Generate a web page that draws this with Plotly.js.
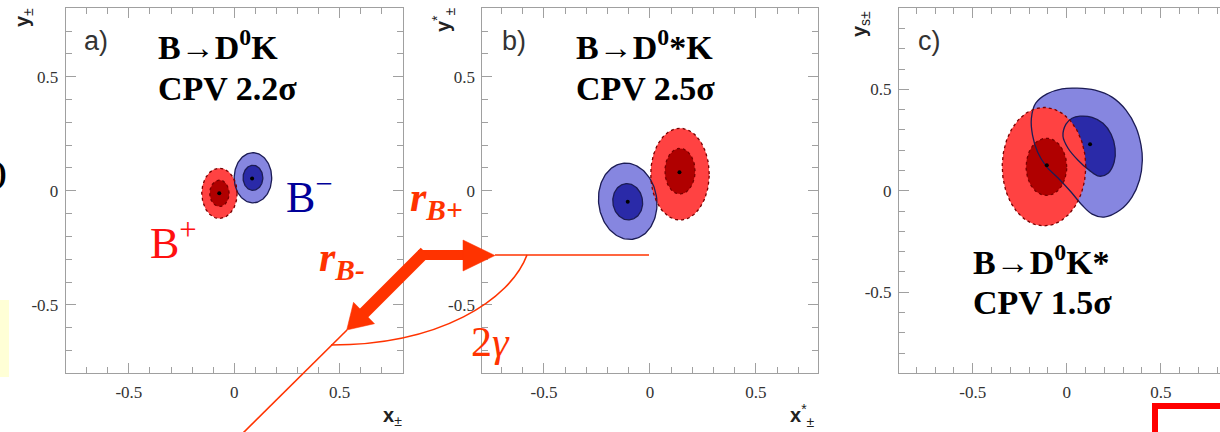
<!DOCTYPE html>
<html>
<head>
<meta charset="utf-8">
<script src="https://cdn.plot.ly/plotly-3.0.1.min.js"></script>
<style>
  html, body { margin: 0; padding: 0; background: #ffffff; }
  #chart { width: 1220px; height: 432px; }
</style>
</head>
<body>
<div id="chart"></div>
<script>
// ---------------- DATA ----------------
// Contour ellipses: [centre x, centre y, semi-axis x, semi-axis y, tilt deg]
// Panel a) B -> D0 K
const aRedOuter  = [-0.070, -0.011, 0.084, 0.110, 0];
const aRedInner  = [-0.070, -0.011, 0.046, 0.058, 0];
const aBlueOuter = [ 0.089,  0.057, 0.089, 0.110, 0];
const aBlueInner = [ 0.089,  0.057, 0.047, 0.055, 0];
const aBestX = [-0.071, 0.085];   // B+ , B-
const aBestY = [-0.011, 0.054];

// Panel b) B -> D0* K
const bRedOuter  = [ 0.1415, 0.073, 0.138, 0.201, 0];
const bRedInner  = [ 0.1415, 0.086, 0.071, 0.100, 0];
const bBlueOuter = [-0.105, -0.046, 0.137, 0.168, 10];
const bBlueInner = [-0.105, -0.048, 0.070, 0.080, 12];
const bBestX = [0.139, -0.105];
const bBestY = [0.081, -0.048];

// Panel c) B -> D0 K*
const cRedOuter  = [-0.121, 0.119, 0.222, 0.292, 0];
const cRedInner  = [-0.108, 0.118, 0.108, 0.141, 0];
const cBlueOuterX = [0.055, 0.151, 0.241, 0.315, 0.368, 0.395, 0.402, 0.387, 0.347, 0.284, 0.198, 0.135, 0.081, 0.023, -0.046, -0.110, -0.155, -0.182, -0.188, -0.165, -0.105, -0.025];
const cBlueOuterY = [0.506, 0.496, 0.462, 0.398, 0.314, 0.225, 0.151, 0.053, -0.031, -0.095, -0.130, -0.115, -0.070, -0.006, 0.063, 0.122, 0.191, 0.275, 0.358, 0.432, 0.478, 0.503];
const cBlueInnerX = [0.071, 0.135, 0.193, 0.236, 0.257, 0.252, 0.220, 0.172, 0.119, 0.060, 0.007, -0.020, -0.004, 0.028];
const cBlueInnerY = [0.368, 0.362, 0.333, 0.279, 0.210, 0.141, 0.087, 0.072, 0.102, 0.151, 0.210, 0.269, 0.329, 0.358];
const cBestX = [-0.106, 0.124];
const cBestY = [0.126, 0.230];

// Tick labels
const tickVals = [-0.5, 0, 0.5];
const tickText = ['-0.5', '0', '0.5'];

// ---------------- STYLE ----------------
const W = 1220, H = 432;
const RED_OUT = '#ff4242', RED_IN = '#b00000', RED_EDGE = '#7a0000';
const BLUE_OUT = '#8686e0', BLUE_IN = '#2a2aa8', BLUE_EDGE = '#1c1c55';
const AX = '#a0a0a0';
const ORANGE = '#ff3300';
const SERIF = "'Liberation Serif', 'Times New Roman', serif";
const SANS = "'Liberation Sans', Arial, sans-serif";

function ellipse(p) {
  const [cx, cy, a, b, th] = p;
  const t = th * Math.PI / 180;
  const xs = [], ys = [];
  const n = 140;
  for (let i = 0; i <= n; i++) {
    const u = 2 * Math.PI * i / n;
    const ex = a * Math.cos(u), ey = b * Math.sin(u);
    xs.push(cx + ex * Math.cos(t) - ey * Math.sin(t));
    ys.push(cy + ex * Math.sin(t) + ey * Math.cos(t));
  }
  return [xs, ys];
}
function closed(xs, ys) { return [xs.concat([xs[0]]), ys.concat([ys[0]])]; }

const traces = [];
function fillTr(xy, color, k, spline) {
  traces.push({x: xy[0], y: xy[1], xaxis: 'x' + k, yaxis: 'y' + k, mode: 'lines',
    line: {width: 0, shape: spline ? 'spline' : 'linear', smoothing: 1}, fill: 'toself', fillcolor: color,
    hoverinfo: 'skip', showlegend: false});
}
function lineTr(xy, color, dash, k, spline) {
  traces.push({x: xy[0], y: xy[1], xaxis: 'x' + k, yaxis: 'y' + k, mode: 'lines',
    line: {width: 1.3, color: color, dash: dash, shape: spline ? 'spline' : 'linear', smoothing: 1},
    hoverinfo: 'skip', showlegend: false});
}
function dots(xs, ys, k) {
  traces.push({x: xs, y: ys, xaxis: 'x' + k, yaxis: 'y' + k, mode: 'markers',
    marker: {size: 4, color: '#000000'}, hoverinfo: 'skip', showlegend: false});
}

function panel(k, redO, redI, blueO, blueI, bx, by, blueSpline) {
  fillTr(blueO, BLUE_OUT, k, blueSpline);
  fillTr(blueI, BLUE_IN, k, blueSpline);
  fillTr(redO, RED_OUT, k, false);
  fillTr(redI, RED_IN, k, false);
  lineTr(blueO, BLUE_EDGE, 'solid', k, blueSpline);
  lineTr(blueI, BLUE_EDGE, 'solid', k, blueSpline);
  lineTr(redO, RED_EDGE, 'dot', k, false);
  lineTr(redI, RED_EDGE, 'dot', k, false);
  dots(bx, by, k);
}
panel('', ellipse(aRedOuter), ellipse(aRedInner), ellipse(aBlueOuter), ellipse(aBlueInner), aBestX, aBestY, false);
panel('2', ellipse(bRedOuter), ellipse(bRedInner), ellipse(bBlueOuter), ellipse(bBlueInner), bBestX, bBestY, false);
panel('3', ellipse(cRedOuter), ellipse(cRedInner), closed(cBlueOuterX, cBlueOuterY), closed(cBlueInnerX, cBlueInnerY), cBestX, cBestY, true);

function axis(domain, range, anchor, mirror) {
  return {
    domain: domain, range: range, anchor: anchor,
    showline: true, linecolor: AX, linewidth: 1, mirror: mirror,
    ticks: 'inside', ticklen: 10, tickcolor: AX, tickwidth: 1,
    tickmode: 'array', tickvals: tickVals, ticktext: tickText,
    minor: {tickmode: 'linear', tick0: 0, dtick: 0.1, ticklen: 6, ticks: 'inside', tickcolor: AX, tickwidth: 1},
    showgrid: false, zeroline: false, fixedrange: true,
    ticklabelstandoff: 3,
    tickfont: {family: SERIF, size: 17, color: '#333333'}
  };
}
const yDom = [1 - 373.3 / H, 1 - 8.3 / H];
const layout = {
  width: W, height: H,
  margin: {l: 0, r: 0, t: 0, b: 0},
  paper_bgcolor: '#ffffff', plot_bgcolor: 'rgba(0,0,0,0)',
  font: {family: SERIF, color: '#333333'},
  showlegend: false,
  xaxis:  axis([65.7 / W, 402.7 / W], [-0.8, 0.8], 'y', 'allticks'),
  yaxis:  axis(yDom, [-0.8, 0.8], 'x', 'allticks'),
  xaxis2: axis([482.3 / W, 818.3 / W], [-0.791, 0.794], 'y2', 'allticks'),
  yaxis2: axis(yDom, [-0.8, 0.8], 'x2', 'allticks'),
  xaxis3: axis([899 / W, 1], [-0.892, 0.815], 'y3', 'allticks'),
  yaxis3: axis(yDom, [-0.9, 0.9], 'x3', false),
  shapes: [], annotations: []
};

// ---------------- overlay drawing (pixel positions on the slide) ----------------
const px = x => x / W, py = y => 1 - y / H;
function P(pts) { return pts.map(p => px(p[0]) + ',' + py(p[1])).join(' '); }
function pathShape(d, color, width, fill) {
  layout.shapes.push({type: 'path', xref: 'paper', yref: 'paper', path: d,
    line: {color: color, width: width}, fillcolor: fill || 'rgba(0,0,0,0)', layer: 'above'});
}
function lineShape(x0, y0, x1, y1, color, width) {
  layout.shapes.push({type: 'line', xref: 'paper', yref: 'paper',
    x0: px(x0), y0: py(y0), x1: px(x1), y1: py(y1), line: {color: color, width: width}, layer: 'above'});
}
// pale yellow box at left edge
layout.shapes.push({type: 'rect', xref: 'paper', yref: 'paper', x0: px(0), x1: px(9), y0: py(377), y1: py(300),
  fillcolor: '#ffffd6', line: {width: 0}, layer: 'below'});
// red bracket bottom right
pathShape('M' + P([[1155, 436]]) + ' L' + P([[1155, 406]]) + ' L' + P([[1224, 406]]), '#ff0000', 6);
// thin construction lines
lineShape(495, 255, 649, 255, ORANGE, 1.6);
lineShape(347, 330, 240, 436, ORANGE, 1.6);
pathShape('M' + P([[331, 345]]) + ' C' + P([[440, 345]]) + ' ' + P([[510, 300]]) + ' ' + P([[527, 255]]), ORANGE, 1.6);
// thick arrows
lineShape(418, 255, 468, 255, ORANGE, 10);
pathShape('M' + P([[463, 240]]) + ' L' + P([[495, 255.5]]) + ' L' + P([[463, 271]]) + ' Z', ORANGE, 0.5, ORANGE);
lineShape(425, 252, 362, 315, ORANGE, 12);
pathShape('M' + P([[353.5, 302.3]]) + ' L' + P([[346.7, 330]]) + ' L' + P([[374.5, 323.7]]) + ' Z', ORANGE, 0.5, ORANGE);

function ann(text, x, y, size, color, family, xanchor, yanchor, extra) {
  layout.annotations.push(Object.assign({xref: 'paper', yref: 'paper', x: px(x), y: py(y), text: text, showarrow: false,
    xanchor: xanchor || 'left', yanchor: yanchor || 'middle',
    font: {size: size, color: color, family: family}}, extra || {}));
}

// panel labels
ann('a)', 82, 41, 27, '#333333', SANS);
ann('b)', 500, 41, 27, '#333333', SANS);
ann('c)', 916, 41, 27, '#333333', SANS);
// titles
ann('<b>B→D<sup>0</sup>K</b>', 156, 45, 34, '#000000', SERIF);
ann('<b>CPV 2.2σ</b>', 156, 88, 34, '#000000', SERIF);
ann('<b>B→D<sup>0</sup>*K</b>', 574, 45, 34, '#000000', SERIF);
ann('<b>CPV 2.5σ</b>', 574, 88, 34, '#000000', SERIF);
ann('<b>B→D<sup>0</sup>K*</b>', 971, 260, 34, '#000000', SERIF);
ann('<b>CPV 1.5σ</b>', 971, 302, 34, '#000000', SERIF);
// axis titles
ann('<b>y</b><sub>±</sub>', 24, 18, 20, '#222222', SANS, 'center', 'middle', {textangle: -90});
ann('<b>y</b><sup>*</sup><sub>±</sub>', 444, 20, 20, '#222222', SANS, 'center', 'middle', {textangle: -90});
ann('<b>y</b><sub>s±</sub>', 860, 24, 20, '#222222', SANS, 'center', 'middle', {textangle: -90});
ann('<b>x</b><sub>±</sub>', 392, 416, 20, '#222222', SANS, 'center', 'middle');
ann('<b>x</b><sup>*</sup><sub>±</sub>', 802, 415, 20, '#222222', SANS, 'center', 'middle');
// B+ / B- labels
ann('B<sup>+</sup>', 148, 240, 44, '#ff1010', SERIF);
ann('B<sup>−</sup>', 284, 194, 44, '#000099', SERIF);
// r_B labels and 2gamma
ann('<b><i>r<sub>B+</sub></i></b>', 408, 200, 42, ORANGE, SERIF);
ann('<b><i>r<sub>B-</sub></i></b>', 317, 260, 42, ORANGE, SERIF);
ann('2<i>γ</i>', 469, 342, 42, ORANGE, SERIF);
// cut-off glyph at left edge of the slide
ann('<b>)</b>', -6, 172, 32, '#000000', SERIF);

Plotly.newPlot('chart', traces, layout, {staticPlot: true, displayModeBar: false});
</script>
</body>
</html>
